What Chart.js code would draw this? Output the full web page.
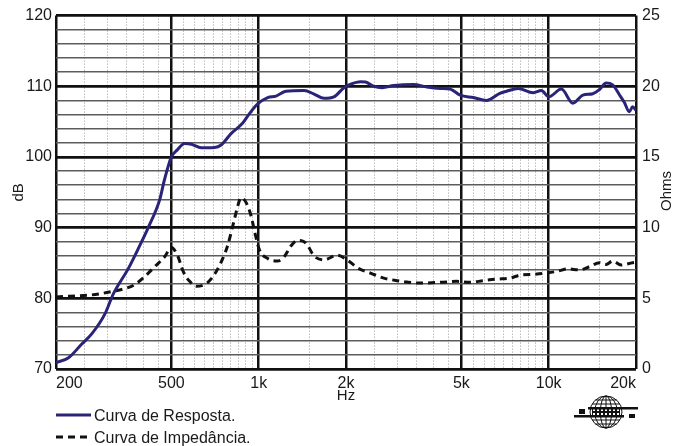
<!DOCTYPE html>
<html lang="pt">
<head>
<meta charset="UTF-8">
<title>Curva de Resposta e Impedância</title>
<script src="https://cdn.jsdelivr.net/npm/chart.js"></script>
<style>
    * { margin: 0; padding: 0; box-sizing: border-box; }
    body { background: #fff; width: 688px; height: 446px; overflow: hidden; }
    canvas { display: block; }
</style>
</head>
<body>
<canvas id="responseChart" width="688" height="446"></canvas>
<script>
// Frequency response (dB, left axis)
const responseHz = [200, 221, 245, 266, 295, 315, 355, 384, 416, 456,
    472, 500, 524, 555, 586, 634, 704, 742, 803, 881,
    928, 992, 1074, 1147, 1241, 1434, 1552, 1680, 1817, 1967,
    2075, 2245, 2336, 2494, 2666, 2921, 3421, 3804, 4225, 4573,
    4950, 5497, 6111, 6787, 7158, 7846, 8834, 9440, 10000, 11060,
    12120, 13120, 14200, 14970, 15780, 16620, 17530, 18240, 18970, 19470,
    20000];
const responseDb = [70.9, 71.6, 73.5, 75.0, 77.8, 80.6, 84.2, 87.0, 90.0, 94.0,
    96.6, 100.0, 101.0, 101.9, 101.8, 101.3, 101.35, 101.7, 103.3, 104.8,
    106.1, 107.5, 108.4, 108.6, 109.3, 109.4, 108.9, 108.3, 108.5, 109.8,
    110.3, 110.65, 110.6, 110.0, 109.8, 110.1, 110.25, 109.9, 109.7, 109.6,
    108.75, 108.4, 108.0, 109.0, 109.3, 109.7, 109.1, 109.4, 108.5, 109.6,
    107.6, 108.75, 108.95, 109.55, 110.45, 110.2, 108.8, 107.7, 106.4, 107.1,
    106.6];

// Impedance (Ohms, right axis)
const impedanceHz = [200, 273, 315, 346, 374, 405, 438, 474, 500, 527,
    549, 578, 609, 668, 714, 752, 782, 825, 847, 869,
    905, 941, 966, 1005, 1074, 1162, 1224, 1291, 1361, 1434,
    1473, 1552, 1680, 1867, 2021, 2215, 2430, 2700, 3000, 3248,
    3607, 4225, 4822, 5356, 5951, 6614, 7347, 8058, 8834, 9502,
    10630, 11650, 12780, 13830, 14970, 15780, 16620, 17770, 19470, 20000];
const impedanceOhm = [5.1, 5.27, 5.5, 5.69, 5.97, 6.55, 7.24, 7.94, 8.6, 7.94,
    6.9, 6.2, 5.85, 6.13, 6.9, 7.82, 8.75, 10.6, 11.54, 12.12,
    11.77, 10.84, 9.8, 8.45, 7.82, 7.64, 7.94, 8.7, 9.1, 9.0,
    8.75, 8.0, 7.72, 8.05, 7.7, 7.1, 6.78, 6.43, 6.25, 6.15,
    6.08, 6.13, 6.2, 6.13, 6.25, 6.36, 6.43, 6.66, 6.7, 6.75,
    6.9, 7.08, 7.01, 7.24, 7.52, 7.4, 7.64, 7.36, 7.52, 7.55];

// Axis ticks
const freqTicks = [200, 250, 300, 350, 400, 450, 500, 550, 600, 650, 700, 750, 800, 850, 900, 950,
    1000, 1500, 2000, 2500, 3000, 3500, 4000, 4500, 5000, 5500, 6000, 6500, 7000, 7500,
    8000, 8500, 9000, 9500, 10000, 15000, 20000];
const freqMajor = [200, 500, 1000, 2000, 5000, 10000, 20000];
const freqLabels = {200: '200', 500: '500', 1000: '1k', 2000: '2k', 5000: '5k', 10000: '10k', 20000: '20k'};
const dbTicks = [70, 72, 74, 76, 78, 80, 82, 84, 86, 88, 90, 92, 94, 96, 98, 100,
    102, 104, 106, 108, 110, 112, 114, 116, 118, 120];
const ohmTicks = [0, 5, 10, 15, 20, 25];

const FONT = "'Liberation Sans', Arial, sans-serif";
const TEXT = '#1a1a1a';
const NAVY = '#2a2478';

Chart.defaults.font.family = FONT;
Chart.defaults.color = TEXT;

function isMajorFreq(ctx) {
    return ctx.tick && freqMajor.includes(ctx.tick.value);
}
function isMajorDb(ctx) {
    return ctx.tick && ctx.tick.value % 10 === 0;
}

// Ohms title, legend and logo
const decorations = {
    id: 'decorations',
    afterDraw(chart) {
        const c = chart.ctx;
        const area = chart.chartArea;

        c.save();
        c.fillStyle = TEXT;
        c.font = '15px ' + FONT;
        c.textAlign = 'center';
        c.textBaseline = 'middle';
        c.translate(chart.scales.y1.right - 21, 191);
        c.rotate(-Math.PI / 2);
        c.fillText('Ohms', 0, 0);
        c.restore();

        // legend
        c.save();
        c.font = '16px ' + FONT;
        c.fillStyle = TEXT;
        c.textAlign = 'left';
        c.textBaseline = 'alphabetic';
        c.lineWidth = 3;
        c.strokeStyle = NAVY;
        c.beginPath();
        c.moveTo(area.left, 415);
        c.lineTo(area.left + 35, 415);
        c.stroke();
        c.fillText(chart.data.datasets[0].label, area.left + 38, 421);

        c.strokeStyle = '#111';
        c.setLineDash([7, 5]);
        c.beginPath();
        c.moveTo(area.left, 437);
        c.lineTo(area.left + 32, 437);
        c.stroke();
        c.setLineDash([]);
        c.fillText(chart.data.datasets[1].label, area.left + 38, 443);
        c.restore();

        // globe logo
        const gx = 606, gy = 412, r = 16;
        c.save();
        c.strokeStyle = '#111';
        c.lineWidth = 1;
        c.beginPath();
        c.arc(gx, gy, r, 0, Math.PI * 2);
        c.stroke();
        [0.35, 0.7].forEach(k => {
            c.beginPath();
            c.ellipse(gx, gy, r * k, r, 0, 0, Math.PI * 2);
            c.stroke();
        });
        c.beginPath();
        c.moveTo(gx, gy - r);
        c.lineTo(gx, gy + r);
        c.stroke();
        [-0.75, -0.5, 0.5, 0.75].forEach(k => {
            const yy = gy + r * k;
            const hw = Math.sqrt(1 - k * k) * r;
            c.beginPath();
            c.moveTo(gx - hw, yy);
            c.lineTo(gx + hw, yy);
            c.stroke();
        });
        c.fillStyle = '#111';
        c.fillRect(gx - 14, gy - 5, 28, 9);
        c.fillStyle = '#fff';
        for (let i = -13; i < 14; i += 4) {
            c.fillRect(gx + i, gy - 3, 2, 2);
            c.fillRect(gx + i, gy + 1, 2, 2);
        }
        c.fillStyle = '#111';
        c.fillRect(gx - 18, gy - 5, 50, 2.5);
        c.fillRect(gx - 32, gy + 3, 50, 2.5);
        c.fillRect(gx - 27, gy - 3, 6, 5);
        c.fillRect(gx + 23, gy + 2, 6, 4);
        c.restore();
    }
};

new Chart(document.getElementById('responseChart').getContext('2d'), {
    type: 'line',
    data: {
        datasets: [{
            label: 'Curva de Resposta.',
            data: responseHz.map((f, i) => ({x: f, y: responseDb[i]})),
            yAxisID: 'y',
            borderColor: NAVY,
            borderWidth: 3,
            pointRadius: 0,
            cubicInterpolationMode: 'monotone',
            fill: false
        }, {
            label: 'Curva de Impedância.',
            data: impedanceHz.map((f, i) => ({x: f, y: impedanceOhm[i]})),
            yAxisID: 'y1',
            borderColor: '#111',
            borderWidth: 3,
            borderDash: [7, 5],
            pointRadius: 0,
            cubicInterpolationMode: 'monotone',
            fill: false
        }]
    },
    options: {
        responsive: false,
        animation: false,
        layout: {padding: 0},
        plugins: {
            legend: {display: false},
            tooltip: {enabled: false}
        },
        scales: {
            x: {
                type: 'logarithmic',
                min: 200,
                max: 20000,
                afterBuildTicks: s => { s.ticks = freqTicks.map(v => ({value: v})); },
                afterFit: s => { s.height = 77; },
                ticks: {
                    autoSkip: false,
                    maxRotation: 0,
                    minRotation: 0,
                    align: 'inner',
                    padding: 5,
                    font: {size: 16},
                    callback: v => freqLabels[v] || ''
                },
                grid: {
                    drawTicks: false,
                    color: ctx => isMajorFreq(ctx) ? '#111' : '#9a9a9a',
                    lineWidth: ctx => isMajorFreq(ctx) ? 2.5 : 1
                },
                border: {
                    display: false,
                    dash: ctx => isMajorFreq(ctx) ? [] : [1, 2]
                },
                title: {
                    display: true,
                    text: 'Hz',
                    font: {size: 15},
                    padding: {top: 0, bottom: 41}
                }
            },
            y: {
                position: 'left',
                min: 70,
                max: 120,
                afterBuildTicks: s => { s.ticks = dbTicks.map(v => ({value: v})); },
                afterFit: s => { s.width = 56; },
                ticks: {
                    autoSkip: false,
                    padding: 4,
                    font: {size: 16},
                    callback: v => v % 10 === 0 ? String(v) : ''
                },
                grid: {
                    drawTicks: false,
                    color: ctx => isMajorDb(ctx) ? '#111' : '#5c5c5c',
                    lineWidth: ctx => isMajorDb(ctx) ? 2.8 : 1.5
                },
                border: {display: false},
                title: {
                    display: true,
                    text: 'dB',
                    font: {size: 15},
                    padding: {top: 10, bottom: 0}
                }
            },
            y1: {
                position: 'right',
                min: 0,
                max: 25,
                afterBuildTicks: s => { s.ticks = ohmTicks.map(v => ({value: v})); },
                afterFit: s => { s.width = 52; },
                ticks: {
                    autoSkip: false,
                    padding: 6,
                    font: {size: 16}
                },
                grid: {display: false, drawTicks: false},
                border: {display: false}
            }
        }
    },
    plugins: [decorations]
});
</script>
</body>
</html>
